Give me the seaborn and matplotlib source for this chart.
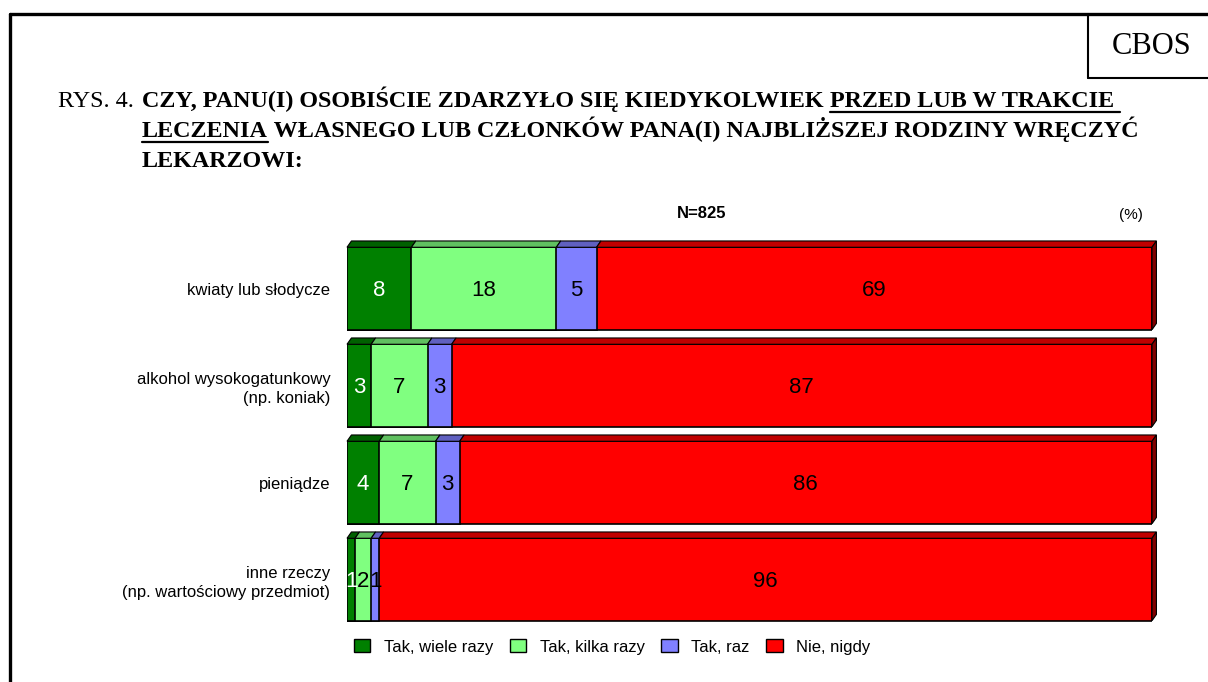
import numpy as np
import pandas as pd
import matplotlib
matplotlib.use("Agg")
import matplotlib.pyplot as plt
from matplotlib.patches import Polygon, Patch
from matplotlib.lines import Line2D
import seaborn as sns

# data (%)
categories = ["kwiaty lub słodycze",
              "alkohol wysokogatunkowy\n(np. koniak)",
              "pieniądze",
              "inne rzeczy\n(np. wartościowy przedmiot)"]
series = ["Tak, wiele razy", "Tak, kilka razy", "Tak, raz", "Nie, nigdy"]
wiele = [8, 3, 4, 1]
kilka = [18, 7, 7, 2]
raz = [5, 3, 3, 1]
nigdy = [69, 87, 86, 96]

colors = ["#008000", "#80FF80", "#8080FF", "#FF0000"]
top_colors = ["#006000", "#60C060", "#6060C0", "#C00000"]
side_color = "#800000"
text_colors = ["white", "black", "black", "black"]

W, H = 1208, 682
sns.set_theme(style="white")
plt.rcParams["font.family"] = ["Liberation Sans", "DejaVu Sans"]
plt.rcParams["text.color"] = "black"
plt.rcParams["ytick.color"] = "black"
plt.rcParams["axes.labelcolor"] = "black"

fig = plt.figure(figsize=(W / 100, H / 100), dpi=100)


def fx(x):
    return x / W


def fy(y):
    return 1 - y / H


ax = fig.add_axes([fx(347), fy(628), (1152 - 347) / W, (628 - 240) / H])

df = pd.DataFrame({"kategoria": categories, series[0]: wiele, series[1]: kilka,
                   series[2]: raz, series[3]: nigdy})
vals = df[series].to_numpy(dtype=float)
cum = vals.cumsum(axis=1)

# stacked bars: draw cumulative totals from the back to the front
bar_h = 0.85
for j in range(len(series) - 1, -1, -1):
    sns.barplot(x=cum[:, j], y=df["kategoria"], orient="h", color=colors[j],
                width=bar_h, edgecolor="black", linewidth=1.2, saturation=1,
                ax=ax)

# pseudo 3D tops and right side
dx, dy = 0.55, 0.065
for i in range(len(categories)):
    top = i - bar_h / 2
    bot = i + bar_h / 2
    left = 0
    for j in range(len(series)):
        right = cum[i, j]
        ax.add_patch(Polygon([(left, top), (left + dx, top - dy),
                              (right + dx, top - dy), (right, top)],
                             closed=True, facecolor=top_colors[j],
                             edgecolor="black", linewidth=0.8, clip_on=False))
        left = right
    ax.add_patch(Polygon([(100, top), (100 + dx, top - dy), (100 + dx, bot - dy),
                          (100, bot)], closed=True, facecolor=side_color,
                         edgecolor="black", linewidth=0.8, clip_on=False))

# value labels
for i in range(len(categories)):
    start = 0
    for j in range(len(series)):
        v = vals[i, j]
        ax.text(start + v / 2, i + 0.02, f"{int(v)}", ha="center", va="center",
                fontsize=16, color=text_colors[j])
        start += v

ax.set_xlim(0, 100)
ax.set_ylim(3.5, -0.5)
ax.set_xlabel("")
ax.set_ylabel("")
ax.set_xticks([])
ax.tick_params(axis="y", length=0, labelsize=12, pad=12)
for lab in ax.get_yticklabels():
    lab.set_multialignment("right")
    lab.set_linespacing(1.3)
sns.despine(ax=ax, left=True, bottom=True)

fig.text(fx(702), fy(214), "N=825", ha="center", va="center", fontsize=12,
         fontweight="bold")
fig.text(fx(1131), fy(215), "(%)", ha="center", va="center", fontsize=11)

handles = [Patch(facecolor=c, edgecolor="black", linewidth=1) for c in colors]
fig.legend(handles, series, loc="center", bbox_to_anchor=(fx(612), fy(647)),
           ncol=4, frameon=False, fontsize=12, handlelength=1.0,
           handleheight=0.8, handletextpad=0.8, columnspacing=1.0)

# frame and CBOS box
fig.add_artist(Line2D([fx(10), fx(10)], [fy(14), fy(682)], color="black", lw=2.4))
fig.add_artist(Line2D([fx(10), fx(1208)], [fy(14), fy(14)], color="black", lw=2.4))
fig.add_artist(Line2D([fx(1088), fx(1088)], [fy(14), fy(78)], color="black", lw=1.5))
fig.add_artist(Line2D([fx(1088), fx(1208)], [fy(78), fy(78)], color="black", lw=1.5))
fig.text(fx(1152), fy(46), "CBOS", ha="center", va="center", fontsize=22,
         family="Liberation Serif")

# title with underlined parts
serif = "Liberation Serif"
tsize = 17.4
renderer = fig.canvas.get_renderer()


def put(x, y, s, bold=True, underline=False):
    t = fig.text(fx(x), fy(y), s, ha="left", va="baseline", fontsize=tsize,
                 family=serif, fontweight="bold" if bold else "normal")
    bb = t.get_window_extent(renderer=renderer)
    if underline:
        fig.add_artist(Line2D([bb.x0 / W, bb.x1 / W], [fy(y + 5), fy(y + 5)],
                              color="black", lw=1.6))
    return bb.x1


put(58, 107, "RYS. 4. ", bold=False)
x = put(142, 107, "CZY, PANU(I) OSOBIŚCIE ZDARZYŁO SIĘ KIEDYKOLWIEK ")
put(x, 107, "PRZED LUB W TRAKCIE ", underline=True)
x = put(142, 137, "LECZENIA", underline=True)
put(x, 137, " WŁASNEGO LUB CZŁONKÓW PANA(I) NAJBLIŻSZEJ RODZINY WRĘCZYĆ")
put(142, 167, "LEKARZOWI:")

fig.savefig("out.png", dpi=100, facecolor="white")
